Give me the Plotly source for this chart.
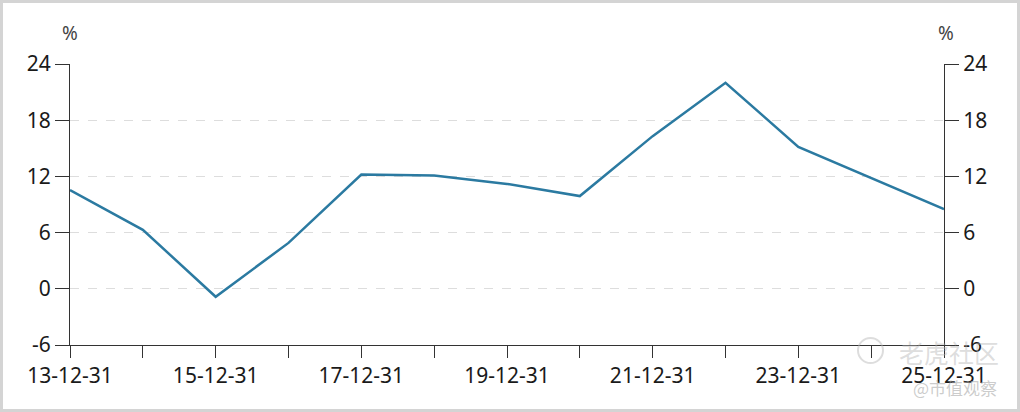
import plotly.graph_objects as go

categories = ["13-12-31", "14-12-31", "15-12-31", "16-12-31", "17-12-31", "18-12-31", "19-12-31",
              "20-12-31", "21-12-31", "22-12-31", "23-12-31", "24-12-31", "25-12-31"]
values = [10.55, 6.3, -0.85, 4.9, 12.2, 12.1, 11.2, 9.9, 16.3, 22.0, 15.15, 11.85, 8.5]
tick_labels = [c if i % 2 == 0 else "" for i, c in enumerate(categories)]
y_ticks = [-6, 0, 6, 12, 18, 24]
y_tick_labels = ["-6", "0", "6", "12", "18", "24"]

W, H = 1020, 412
L, R, T, B = 70, 76, 64, 67
pw, ph = W - L - R, H - T - B

fig = go.Figure()
fig.add_trace(go.Scatter(x=categories, y=values, mode="lines",
                         line=dict(color="#2b7aa1", width=2.5), showlegend=False,
                         hoverinfo="x+y"))
fig.add_trace(go.Scatter(x=categories, y=values, mode="lines", yaxis="y2",
                         line=dict(color="rgba(0,0,0,0)", width=0), showlegend=False,
                         hoverinfo="skip"))

FAM = "Noto Sans, Open Sans, sans-serif"
font = dict(family=FAM, size=21, color="#1a1a1a")
axis_common = dict(range=[-6, 24], tickmode="array", tickvals=y_ticks, ticktext=y_tick_labels,
                   ticks="outside", ticklen=14, tickwidth=1, tickcolor="#333333", showline=True,
                   linecolor="#333333", linewidth=1, zeroline=False, tickfont=font)


def px(x):
    return (x - L) / pw


def py(y):
    return (H - B - y) / ph


def ann(text, x, y, size, color, family=FAM):
    return dict(text=text, xref="paper", yref="paper", x=px(x), y=py(y), showarrow=False,
                xanchor="center", yanchor="middle",
                font=dict(family=family, size=size, color=color))


fig.update_layout(
    width=W, height=H,
    margin=dict(l=L, r=R, t=T, b=B),
    paper_bgcolor="white", plot_bgcolor="white",
    xaxis=dict(type="category", tickmode="array", tickvals=categories, ticktext=tick_labels,
               ticks="outside", ticklen=12, tickcolor="#333333", showline=True,
               linecolor="#333333", linewidth=1, showgrid=False, tickfont=font,
               range=[0, len(categories) - 1]),
    yaxis=dict(**axis_common, side="left", showgrid=True, gridcolor="#dddddd",
               griddash="dash", gridwidth=1),
    yaxis2=dict(**axis_common, side="right", overlaying="y", showgrid=False),
    annotations=[
        ann("%", 70, 33, 19, "#444444"),
        ann("%", 946, 33, 19, "#444444"),
        ann("老虎社区", 949, 352, 25, "rgba(180,180,180,0.45)", "Noto Sans CJK SC"),
        ann("@市值观察", 955, 387, 17, "rgba(170,170,170,0.6)", "Noto Sans CJK SC"),
    ],
    shapes=[
        dict(type="rect", xref="paper", yref="paper",
             x0=-(L - 1.5) / pw, x1=1 + (R - 1.5) / pw,
             y0=-(B - 1.5) / ph, y1=1 + (T - 1.5) / ph,
             line=dict(color="#d4d4d4", width=3), layer="below"),
        dict(type="circle", xref="paper", yref="paper",
             x0=px(858), x1=px(883), y0=py(363), y1=py(338),
             line=dict(color="rgba(180,180,180,0.45)", width=2)),
    ],
)

fig.write_html("out.html", config={"displayModeBar": False},
               post_script="document.body.style.margin='0';document.body.style.overflow='hidden';")
